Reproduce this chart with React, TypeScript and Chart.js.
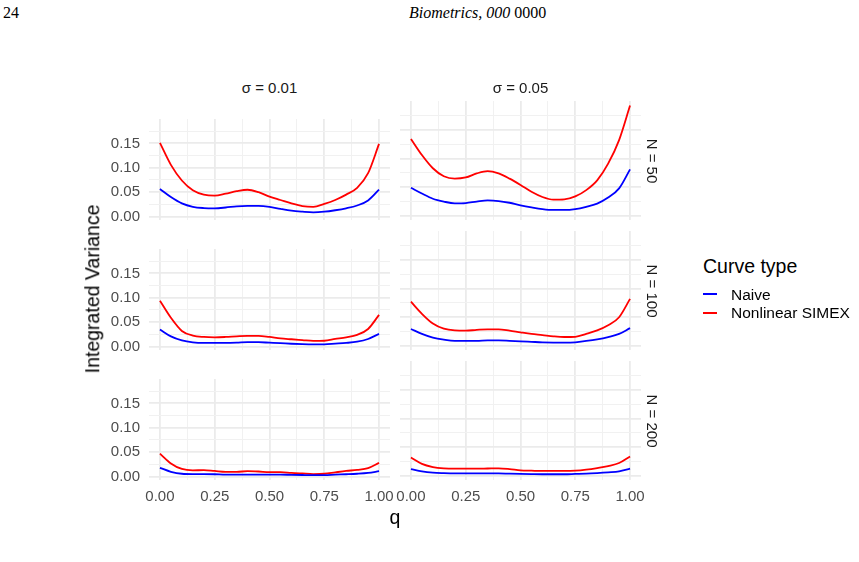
import React, { useEffect, useRef } from "react";
import { Chart, registerables } from "chart.js";

Chart.register(...registerables);

// Grid of q values at which each curve is evaluated
const qGrid = [0, 0.05, 0.1, 0.15, 0.2, 0.25, 0.3, 0.35, 0.4, 0.45, 0.5, 0.55, 0.6, 0.65, 0.7, 0.75, 0.8, 0.85, 0.9, 0.95, 1];

const sigmaLabels = ["σ = 0.01", "σ = 0.05"];
const sampleLabels = ["N = 50", "N = 100", "N = 200"];
const seriesNames = ["Naive", "Nonlinear SIMEX"];

const xTickValues = [0, 0.125, 0.25, 0.375, 0.5, 0.625, 0.75, 0.875, 1];
const xMajorTicks = [0, 0.25, 0.5, 0.75, 1];
const yTickValues = [0, 0.025, 0.05, 0.075, 0.1, 0.125, 0.15, 0.175];
const yMajorTicks = [0, 0.05, 0.1, 0.15];

// sigma = 0.01, N = 50
const naiveS001N50 = [0.0565, 0.040, 0.027, 0.020, 0.0175, 0.017, 0.0186, 0.021, 0.022, 0.022, 0.020, 0.0157, 0.012, 0.010, 0.0087, 0.010, 0.013, 0.017, 0.0227, 0.033, 0.0554];
const simexS001N50 = [0.151, 0.106, 0.074, 0.054, 0.045, 0.043, 0.047, 0.052, 0.055, 0.050, 0.041, 0.034, 0.027, 0.0216, 0.020, 0.026, 0.034, 0.045, 0.059, 0.089, 0.149];
// sigma = 0.05, N = 50
const naiveS005N50 = [0.049, 0.039, 0.030, 0.025, 0.022, 0.0225, 0.025, 0.027, 0.026, 0.023, 0.0186, 0.015, 0.012, 0.0105, 0.0105, 0.012, 0.016, 0.0216, 0.032, 0.048, 0.081];
const simexS005N50 = [0.134, 0.106, 0.083, 0.069, 0.065, 0.067, 0.074, 0.078, 0.074, 0.065, 0.054, 0.042, 0.033, 0.0285, 0.029, 0.034, 0.045, 0.062, 0.091, 0.132, 0.192];
// sigma = 0.01, N = 100
const naiveS001N100 = [0.035, 0.021, 0.0127, 0.0087, 0.0075, 0.0075, 0.0075, 0.008, 0.009, 0.009, 0.008, 0.007, 0.0058, 0.005, 0.0046, 0.0046, 0.006, 0.0075, 0.010, 0.0156, 0.026];
const simexS001N100 = [0.094, 0.059, 0.032, 0.0225, 0.0197, 0.019, 0.0197, 0.021, 0.022, 0.022, 0.0197, 0.0168, 0.015, 0.0133, 0.0116, 0.012, 0.0156, 0.019, 0.024, 0.036, 0.065];
// sigma = 0.05, N = 100
const naiveS005N100 = [0.0295, 0.021, 0.0145, 0.011, 0.009, 0.009, 0.009, 0.0098, 0.0098, 0.009, 0.008, 0.0072, 0.0064, 0.006, 0.0058, 0.0064, 0.0087, 0.0116, 0.0156, 0.021, 0.031];
const simexS005N100 = [0.077, 0.056, 0.039, 0.030, 0.027, 0.0266, 0.028, 0.029, 0.029, 0.0266, 0.0237, 0.021, 0.019, 0.0168, 0.0156, 0.016, 0.021, 0.027, 0.036, 0.050, 0.082];
// sigma = 0.01, N = 200
const naiveS001N200 = [0.018, 0.0098, 0.0058, 0.0052, 0.0052, 0.0048, 0.004, 0.004, 0.004, 0.004, 0.004, 0.004, 0.0035, 0.0032, 0.003, 0.003, 0.004, 0.0048, 0.0058, 0.0075, 0.011];
const simexS001N200 = [0.047, 0.027, 0.0156, 0.0127, 0.0133, 0.0115, 0.0098, 0.0098, 0.011, 0.0104, 0.0092, 0.0092, 0.0075, 0.0063, 0.0052, 0.0058, 0.0087, 0.0115, 0.0138, 0.0173, 0.028];
// sigma = 0.05, N = 200
const naiveS005N200 = [0.012, 0.008, 0.0058, 0.005, 0.0046, 0.0046, 0.0046, 0.0046, 0.0046, 0.004, 0.0035, 0.0032, 0.003, 0.003, 0.003, 0.0035, 0.004, 0.005, 0.0063, 0.008, 0.0127];
const simexS005N200 = [0.032, 0.021, 0.0156, 0.0133, 0.0127, 0.0127, 0.0127, 0.013, 0.0133, 0.012, 0.0098, 0.0092, 0.0087, 0.0087, 0.0087, 0.0092, 0.011, 0.0138, 0.0173, 0.0225, 0.034];

const panelSeries = [
  [[naiveS001N50, simexS001N50], [naiveS005N50, simexS005N50]],
  [[naiveS001N100, simexS001N100], [naiveS005N100, simexS005N100]],
  [[naiveS001N200, simexS001N200], [naiveS005N200, simexS005N200]],
];

const seriesColors = ["#0000ff", "#ff0000"];

// Layout of the facet grid (pixels)
const COL_LEFT = [149, 400];
const ROW_TOP = [101, 231, 361];
const PANEL_W = 241;
const PANEL_H = 119;
const Y_AXIS_W = 60;
const X_AXIS_H = 32;
const PAD_R = 22;

const SANS = "'Liberation Sans', Arial, Helvetica, sans-serif";
const GRID = "#ebebeb";

function Panel({ row, col }: { row: number; col: number }) {
  const ref = useRef<HTMLCanvasElement | null>(null);
  const showY = col === 0;
  const showX = row === 2;

  useEffect(() => {
    if (!ref.current) return;
    const series = panelSeries[row][col];
    const gridColor = (major: number[]) => (ctx: any) =>
      ctx.tick && major.includes(ctx.tick.value) ? GRID : "#f1f1f1";
    const gridWidth = (major: number[]) => (ctx: any) =>
      ctx.tick && major.includes(ctx.tick.value) ? 1.8 : 1;

    const chart = new Chart(ref.current, {
      type: "line",
      data: {
        datasets: series.map((vals, i) => ({
          label: seriesNames[i],
          data: qGrid.map((q, j) => ({ x: q, y: vals[j] })),
          borderColor: seriesColors[i],
          backgroundColor: seriesColors[i],
          borderWidth: 1.8,
          pointRadius: 0,
          fill: false,
          cubicInterpolationMode: "monotone" as const,
        })),
      },
      options: {
        animation: false,
        responsive: false,
        events: [],
        layout: { padding: { left: 0, right: PAD_R, top: 0, bottom: 0 } },
        plugins: { legend: { display: false }, tooltip: { enabled: false } },
        scales: {
          x: {
            type: "linear",
            min: -0.05,
            max: 1.05,
            afterBuildTicks: (ax: any) => {
              ax.ticks = xTickValues.map((v) => ({ value: v }));
            },
            afterFit: (ax: any) => {
              ax.height = X_AXIS_H;
            },
            border: { display: false },
            grid: { drawTicks: false, color: gridColor(xMajorTicks), lineWidth: gridWidth(xMajorTicks) },
            ticks: {
              display: showX,
              autoSkip: false,
              maxRotation: 0,
              padding: 8,
              color: "#4d4d4d",
              font: { family: SANS, size: 15 },
              callback: (v: any) => (xMajorTicks.includes(v) ? Number(v).toFixed(2) : ""),
            },
          },
          y: {
            type: "linear",
            min: -0.007,
            max: 0.2,
            afterBuildTicks: (ax: any) => {
              ax.ticks = yTickValues.map((v) => ({ value: v }));
            },
            afterFit: (ax: any) => {
              ax.width = Y_AXIS_W;
            },
            border: { display: false },
            grid: { drawTicks: false, color: gridColor(yMajorTicks), lineWidth: gridWidth(yMajorTicks) },
            ticks: {
              display: showY,
              autoSkip: false,
              padding: 9,
              color: "#4d4d4d",
              font: { family: SANS, size: 15 },
              callback: (v: any) => (yMajorTicks.includes(v) ? Number(v).toFixed(2) : ""),
            },
          },
        },
      },
    });
    return () => chart.destroy();
  }, [row, col]);

  const w = Y_AXIS_W + PANEL_W + PAD_R;
  const h = PANEL_H + X_AXIS_H;
  return (
    <canvas
      ref={ref}
      width={w}
      height={h}
      style={{
        position: "absolute",
        left: COL_LEFT[col] - Y_AXIS_W,
        top: ROW_TOP[row],
        width: w,
        height: h,
        display: "block",
      }}
    />
  );
}

function Label({
  x,
  y,
  text,
  size,
  color = "#000",
  rotate = 0,
  align = "center",
  family = SANS,
  children,
}: {
  x: number;
  y: number;
  text?: string;
  size: number;
  color?: string;
  rotate?: number;
  align?: "center" | "left";
  family?: string;
  children?: React.ReactNode;
}) {
  const tx = align === "center" ? "-50%" : "0";
  return (
    <div
      style={{
        position: "absolute",
        left: x,
        top: y,
        transform: `translate(${tx}, -50%) rotate(${rotate}deg)`,
        transformOrigin: align === "center" ? "center" : "left center",
        fontFamily: family,
        fontSize: size,
        lineHeight: 1,
        color,
        whiteSpace: "nowrap",
      }}
    >
      {text}
      {children}
    </div>
  );
}

export default function App() {
  const panelCenterX = COL_LEFT.map((l) => l + PANEL_W / 2);
  const panelCenterY = ROW_TOP.map((t) => t + PANEL_H / 2);
  return (
    <div
      style={{
        position: "absolute",
        left: 0,
        top: 0,
        width: 859,
        height: 562,
        background: "#fff",
        overflow: "hidden",
      }}
    >
      {/* running header */}
      <Label x={3} y={13} size={16} align="left" family="'Liberation Serif', 'DejaVu Serif', serif" text="24" />
      <Label x={409} y={13} size={16} align="left" family="'Liberation Serif', 'DejaVu Serif', serif">
        <i>Biometrics, 000</i> 0000
      </Label>

      {ROW_TOP.map((_, r) =>
        COL_LEFT.map((__, c) => <Panel key={`${r}-${c}`} row={r} col={c} />)
      )}

      {/* facet strips */}
      {sigmaLabels.map((s, c) => (
        <Label key={s} x={panelCenterX[c]} y={86.5} size={15} color="#1a1a1a" text={s} />
      ))}
      {sampleLabels.map((s, r) => (
        <Label key={s} x={652} y={panelCenterY[r]} size={15} color="#1a1a1a" rotate={90} text={s} />
      ))}

      {/* axis titles */}
      <Label x={93} y={289} size={19.5} rotate={-90} text="Integrated Variance" />
      <Label x={395} y={518} size={19.5} text="q" />

      {/* legend */}
      <Label x={703} y={267} size={19.5} align="left" text="Curve type" />
      {seriesNames.map((name, i) => (
        <React.Fragment key={name}>
          <div
            style={{
              position: "absolute",
              left: 703,
              top: 294 + i * 18.5 - 1,
              width: 14,
              height: 2,
              background: seriesColors[i],
            }}
          />
          <Label x={731} y={294.5 + i * 18.5} size={15.5} align="left" text={name} />
        </React.Fragment>
      ))}
    </div>
  );
}
